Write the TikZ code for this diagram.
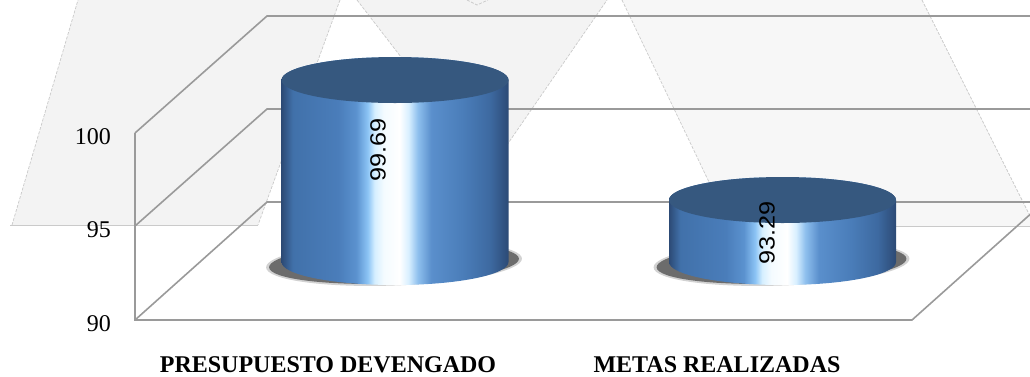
\documentclass[tikz,border=0pt]{standalone}
\usepackage{fontspec}
\setmainfont{Liberation Serif}
\newfontfamily\lsans{Liberation Sans}
\definecolor{gridcol}{HTML}{9A9A9A}
\definecolor{wmfillA}{HTML}{F3F3F3}
\definecolor{wmfillC}{HTML}{F7F7F7}
\definecolor{wmline}{HTML}{CACACA}
\definecolor{topcol}{HTML}{36587F}
\definecolor{shcol}{HTML}{4A4A4A}
\definecolor{ca}{HTML}{2C4A75}
\definecolor{cb}{HTML}{4171AA}
\definecolor{cc}{HTML}{4A7DBA}
\definecolor{cd}{HTML}{5B92CF}
\definecolor{ce}{HTML}{8CC4F5}
\definecolor{cf}{HTML}{D5EFFF}
\definecolor{cg}{HTML}{F4FBFF}
\definecolor{ch}{HTML}{FFFFFF}
\definecolor{ci}{HTML}{D8EFFF}
\definecolor{cj}{HTML}{8FC0EE}
\definecolor{ck}{HTML}{5A8FCC}
\definecolor{cl}{HTML}{4A7DB9}
\definecolor{cm}{HTML}{3D69A0}
\pgfdeclarehorizontalshading{cylshade}{100bp}{color(0bp)=(ca); color(25bp)=(ca); color(27.5bp)=(cb); color(37.5bp)=(cc); color(41.5bp)=(cd); color(44bp)=(ce); color(45.5bp)=(cf); color(47.5bp)=(cg); color(51bp)=(ch); color(53bp)=(ci); color(55bp)=(cj); color(58bp)=(ck); color(65bp)=(cl); color(71bp)=(cm); color(75bp)=(ca); color(100bp)=(ca)}
\tikzset{
  gridline/.style={draw=gridcol, line width=1.6pt},
  wmedge/.style={draw=wmline, line width=0.7pt, dash pattern=on 3pt off 1.5pt},
  wmbase/.style={draw=wmline, line width=0.9pt},
  axislabel/.style={font=\fontsize{24}{24}\selectfont, anchor=east, inner sep=0pt},
  catlabel/.style={font=\fontsize{24}{24}\selectfont\bfseries, anchor=base, inner sep=0pt},
  vallabel/.style={font=\lsans\fontsize{22}{22}\selectfont, rotate=90, inner sep=0pt, text=black},
}
\begin{document}
\begin{tikzpicture}[x=1pt,y=1pt]
\useasboundingbox (0,0) rectangle (1030,-376);
\clip (0,0) rectangle (1030,-376);
% watermark
\fill[wmfillA] (12,-225) -- (78,0) -- (340,0) -- (258,-225) -- cycle;
\fill[wmfillA] (357,0) -- (607,0) -- (489,-171) -- cycle;
\fill[wmfillC] (622,0) -- (922,0) -- (1035,-226) -- (730,-226) -- cycle;
\draw[wmedge] (12,-225) -- (78,0);
\draw[wmedge] (340,0) -- (258,-225);
\draw[wmbase] (10,-225) -- (258,-225);
\draw[wmedge] (357,0) -- (489,-171) -- (607,0);
\draw[wmedge] (622,0) -- (730,-226);
\draw[wmedge] (922,0) -- (1035,-226);
\draw[wmbase] (730,-226) -- (1035,-226);
\draw[wmedge] (467,0) -- (477,-5) -- (488,0);
% chart frame
\coordinate (f100) at (135,-133);
\coordinate (f95) at (135,-226);
\coordinate (f90) at (135,-320);
\coordinate (b100) at (267,-16);
\coordinate (b95) at (267,-109);
\coordinate (b90) at (267,-202);
\coordinate (fr90) at (912,-320);
\draw[gridline] (f100) -- (b100) -- (1030,-16);
\draw[gridline] (f95) -- (b95) -- (1030,-109);
\draw[gridline] (f90) -- (b90) -- (1030,-202);
\draw[gridline] (f100) -- (f90) -- (fr90) -- (1044,-202);
% axis labels
\node[axislabel] (l100) at (111,-137) {100};
\node[axislabel] (l95) at (111,-230) {95};
\node[axislabel] (l90) at (111,-324) {90};
% cylinders
\foreach \cx/\ty in {395/80, 782.5/200}{
  \fill[shcol, opacity=0.25] (\cx-1,-263) ellipse[x radius=128, y radius=22.5, rotate=2];
  \fill[shcol, opacity=0.75] (\cx-1,-263) ellipse[x radius=125, y radius=20.5, rotate=2];
  \path[shading=cylshade] (\cx-113.5,-\ty) -- (\cx-113.5,-262)
     arc[start angle=180, end angle=360, x radius=113.5, y radius=23]
     -- (\cx+113.5,-\ty)
     arc[start angle=0, end angle=180, x radius=113.5, y radius=23] -- cycle;
  \fill[topcol] (\cx,-\ty) ellipse[x radius=113.5, y radius=23];
}
\node[vallabel] (v1) at (378,-150) {\scalebox{1.15}[1]{99.69}};
\node[vallabel] (v2) at (767,-233) {\scalebox{1.15}[1]{93.29}};
% category labels
\node[catlabel] (c1) at (328,-372) {PRESUPUESTO DEVENGADO};
\node[catlabel] (c2) at (717,-372) {METAS REALIZADAS};
\end{tikzpicture}
\end{document}
